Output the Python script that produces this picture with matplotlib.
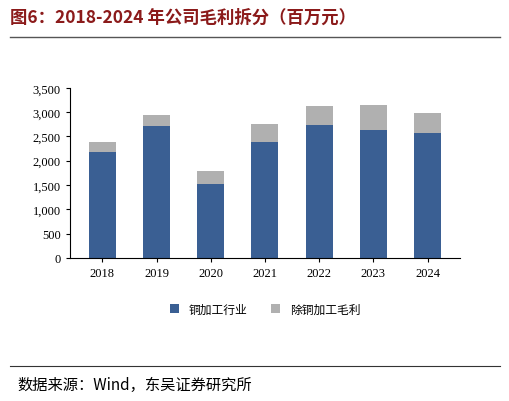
import matplotlib
matplotlib.use("Agg")
import matplotlib.pyplot as plt
from matplotlib.lines import Line2D

plt.rcParams['font.family'] = ['Noto Sans CJK SC', 'DejaVu Sans']

years = ['2018', '2019', '2020', '2021', '2022', '2023', '2024']
copper = [2180, 2720, 1525, 2390, 2740, 2640, 2575]
other = [210, 225, 265, 370, 390, 510, 410]

fig = plt.figure(figsize=(5.10, 4.02), dpi=100)
ax = fig.add_axes([0.137, 0.356, 0.765, 0.423])
x = range(len(years))
ax.bar(x, copper, width=0.5, color='#3A5F93', label='铜加工行业')
ax.bar(x, other, width=0.5, bottom=copper, color='#B0B0B0', label='除铜加工毛利')
ax.set_ylim(0, 3500)
ax.set_yticks(range(0, 3501, 500))
ax.set_yticklabels([f'{v:,}' for v in range(0, 3501, 500)], family='Liberation Serif')
ax.set_xticks(list(x))
ax.set_xticklabels(years, family='Liberation Serif')
ax.set_xlim(-0.6, 6.6)
ax.tick_params(labelsize=9, length=3)
for s in ['top', 'right']:
    ax.spines[s].set_visible(False)
ax.legend(loc='upper center', bbox_to_anchor=(0.5, -0.2), ncol=2, frameon=False,
          fontsize=8.5, handlelength=0.8, handleheight=0.8, columnspacing=2)

fig.text(0.02, 0.955, '图6：2018-2024 年公司毛利拆分（百万元）', fontsize=12.5,
         fontweight='bold', color='#8B1A1A', va='center')
fig.add_artist(Line2D([0.02, 0.98], [0.905, 0.905], color='#555555', lw=1))
fig.add_artist(Line2D([0.02, 0.98], [0.087, 0.087], color='#333333', lw=0.8))
fig.text(0.035, 0.04, '数据来源：Wind，东吴证券研究所', fontsize=11, va='center')
fig.savefig('out.png', dpi=100)
